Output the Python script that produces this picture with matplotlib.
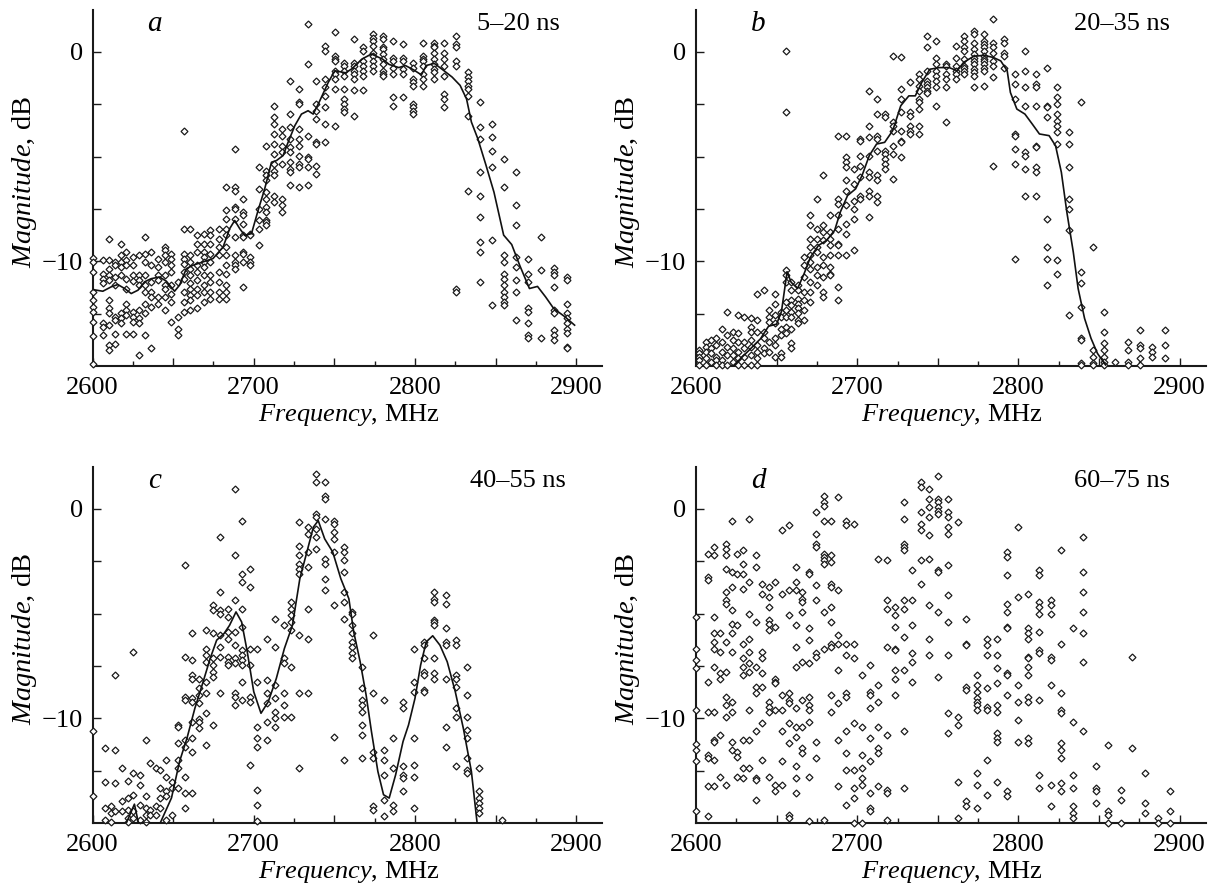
import matplotlib
matplotlib.use('Agg')
import matplotlib.pyplot as plt
from matplotlib.ticker import FixedLocator, FuncFormatter

plt.rcParams['font.family'] = ['Liberation Serif', 'DejaVu Serif']
plt.rcParams['mathtext.fontset'] = 'custom'
plt.rcParams['mathtext.rm'] = 'Liberation Serif'
plt.rcParams['mathtext.it'] = 'Liberation Serif:italic'

# ---------------- panel a : 5-20 ns ----------------
A_F = [2600.6, 2606.8, 2610.1, 2613.7, 2617.8, 2620.9, 2625.1, 2628.8, 2632.3, 2636.4,
       2640.6, 2644.7, 2648.9, 2653.0, 2656.5, 2660.7, 2664.8, 2668.9, 2673.1, 2678.5,
       2683.0, 2688.2, 2693.4, 2697.9, 2703.1, 2707.9, 2712.4, 2717.6, 2722.8, 2728.2,
       2733.7, 2738.9, 2744.5, 2750.1, 2755.9, 2762.0, 2768.0, 2774.0, 2780.1, 2786.4,
       2792.4, 2798.9, 2805.0, 2811.7, 2818.3, 2825.5, 2832.8, 2840.5, 2847.8, 2855.3,
       2862.5, 2870.2, 2878.2, 2886.0, 2894.4]
A_DB = [
    [-9.83, -10.03, -10.51, -11.46, -11.86, -12.17, -12.41, -12.89, -13.56, -14.9],
    [-9.95, -10.59, -10.83, -11.06, -12.97, -13.13, -13.52],
    [-8.92, -9.95, -10.35, -10.67, -10.90, -11.86, -12.25, -12.49, -13.05, -14.0, -14.24],
    [-10.03, -10.19, -10.75, -11.14, -12.65, -12.81, -13.49, -13.97],
    [-9.19, -9.71, -10.03, -10.27, -10.67, -12.49, -12.73, -12.97],
    [-9.56, -9.95, -10.19, -10.83, -11.30, -12.02, -12.33, -12.57, -13.49],
    [-9.79, -10.19, -10.67, -10.95, -12.41, -12.65, -12.89, -13.49],
    [-9.71, -10.67, -10.90, -11.14, -12.33, -12.73, -12.97, -14.48],
    [-8.84, -9.63, -10.03, -10.67, -11.14, -11.46, -12.02, -12.49, -13.52],
    [-9.56, -10.19, -10.98, -11.46, -11.70, -12.17, -14.16],
    [-9.87, -10.27, -10.67, -10.90, -11.70, -12.02],
    [-9.32, -9.48, -9.71, -10.03, -10.67, -11.14, -11.30, -11.70, -12.33],
    [-9.63, -9.87, -10.19, -10.51, -11.14, -11.54, -11.94, -12.89],
    [-10.98, -12.65, -13.21, -13.52],
    [-3.76, -8.44, -9.63, -9.87, -10.11, -10.51, -10.83, -11.46, -11.94, -12.41],
    [-8.44, -9.71, -10.03, -10.35, -10.67, -11.06, -11.30, -11.62, -11.86, -12.33],
    [-8.76, -9.16, -9.56, -10.19, -10.51, -10.90, -11.30, -11.62, -12.25],
    [-8.68, -9.16, -9.56, -9.79, -10.03, -10.27, -10.67, -11.14, -11.46, -11.94],
    [-8.52, -8.76, -9.16, -9.63, -10.03, -10.67, -10.98, -11.46, -11.78],
    [-8.44, -8.92, -9.32, -9.71, -10.51, -10.98, -11.46, -11.78],
    [-6.46, -7.57, -7.97, -8.44, -8.76, -9.32, -9.71, -10.19, -10.59, -11.14, -11.46, -11.78],
    [-4.63, -6.46, -6.62, -7.41, -7.49, -7.97, -8.84, -9.71, -10.03, -10.19, -10.35],
    [-7.02, -7.65, -7.81, -8.21, -8.76, -8.84, -9.56, -9.63, -10.03, -11.22],
    [-8.68, -8.76, -9.79, -10.03, -10.19],
    [-5.51, -6.54, -7.49, -8.05, -8.44, -9.24],
    [-4.48, -5.67, -5.90, -6.14, -6.70, -7.02, -7.41, -7.65, -8.05, -8.13, -8.29],
    [-2.57, -3.13, -3.44, -3.92, -4.40, -4.87, -5.35, -5.67, -5.90, -6.86, -7.17],
    [-3.68, -4.00, -4.48, -4.79, -5.35, -7.02, -7.33, -7.65],
    [-1.38, -2.97, -3.60, -4.16, -4.56, -4.79, -5.27, -5.59, -5.75, -6.38],
    [-1.78, -2.41, -2.49, -3.68, -4.16, -4.48, -4.95, -5.35, -5.51, -6.46],
    [1.32, -0.59, -4.00, -5.03, -5.11, -5.51, -6.38],
    [-1.38, -2.49, -2.81, -3.21, -4.32, -4.40, -5.43, -5.83],
    [0.29, 0.05, -1.30, -1.70, -2.10, -2.65, -3.44, -4.32],
    [0.97, -0.19, -0.35, -0.43, -0.90, -1.06, -1.30, -1.78, -3.52],
    [-0.51, -0.67, -0.90, -1.14, -1.78, -2.25, -2.49, -2.73, -2.89],
    [0.60, -0.51, -0.67, -0.90, -1.06, -1.30, -1.81, -3.08],
    [0.21, 0.05, -0.43, -0.67, -0.90, -1.14, -1.81],
    [0.84, 0.68, 0.52, 0.29, -0.03, -0.19, -0.43, -0.67, -0.90],
    [0.76, 0.60, 0.21, 0.13, -0.11, -0.35, -0.59, -0.90, -1.06, -1.14],
    [0.52, -0.27, -0.43, -0.75, -1.06, -2.17, -2.57],
    [0.37, -0.27, -0.43, -0.83, -1.06, -2.17],
    [-0.51, -0.75, -1.30, -1.46, -1.62, -2.49, -2.65, -2.81, -2.97],
    [0.44, -0.19, -0.35, -0.43, -0.67, -1.06, -1.30, -1.62],
    [0.44, 0.29, 0.21, -0.03, -0.35, -0.59, -0.83, -0.98, -1.30],
    [0.44, -0.03, -0.35, -0.67, -1.14, -2.02, -2.25, -2.65],
    [0.76, 0.37, 0.21, -0.43, -0.67, -11.30, -11.46],
    [-0.98, -1.22, -1.38, -1.62, -1.78, -2.10, -3.05, -6.62],
    [-2.41, -3.60, -4.16, -5.75, -6.86, -7.89, -9.08, -9.56, -10.98],
    [-3.44, -4.08, -4.71, -5.51, -9.00, -12.10],
    [-5.11, -6.46, -9.71, -10.03, -10.59, -10.83, -11.14, -11.46, -11.70, -11.94, -12.10],
    [-5.75, -7.33, -8.29, -9.79, -10.27, -10.90, -11.46, -12.81],
    [-9.87, -10.59, -10.98, -12.25, -12.41, -12.97, -13.52, -13.68],
    [-8.84, -10.43, -13.65],
    [-10.32, -10.51, -10.67, -11.22, -12.33, -12.49, -13.29, -13.52, -13.76],
    [-10.75, -10.90, -12.02, -12.49, -12.73, -12.97, -13.21, -13.44, -14.08, -14.16],
]
A_LINE_F = [2600.2, 2606.4, 2611.6, 2615.7, 2619.9, 2624.0, 2628.2, 2632.3, 2636.4, 2641.6,
            2645.8, 2650.9, 2654.0, 2658.2, 2662.3, 2668.5, 2674.7, 2681.0, 2685.1, 2688.2,
            2691.3, 2694.4, 2698.6, 2702.7, 2706.8, 2711.0, 2714.1, 2718.2, 2721.3, 2725.5,
            2729.6, 2733.7, 2736.9, 2741.0, 2746.2, 2750.3, 2757, 2761, 2767, 2773,
            2780, 2784, 2790, 2794, 2799, 2804, 2807, 2812, 2818, 2823,
            2828, 2832, 2835, 2839, 2844, 2849, 2855, 2860, 2865, 2871,
            2876, 2881, 2886, 2893, 2899]
A_LINE_DB = [-11.35, -11.43, -11.22, -11.11, -11.30, -11.54, -11.38, -10.98, -10.83, -10.75,
             -10.95, -11.43, -11.14, -10.35, -10.19, -10.03, -9.87, -9.32, -8.44, -8.05,
             -8.44, -8.76, -8.68, -7.57, -6.54, -5.27, -5.19, -4.95, -4.32, -3.52,
             -2.97, -2.81, -2.97, -2.33, -1.46, -0.90, -1.0, -0.8, -0.35, -0.1,
             -0.35, -0.6, -0.75, -0.65, -0.85, -1.1, -0.65, -0.55, -0.9, -1.2,
             -1.6, -2.25, -3.35, -4.15, -5.4, -6.7, -8.75, -9.2, -10.2, -11.3,
             -11.2, -11.7, -12.25, -12.65, -13.05]

# ---------------- panel b : 20-35 ns ----------------
B_F = [2602, 2606, 2609, 2612.5, 2616, 2619, 2623, 2626, 2630, 2634,
       2638, 2642, 2645.5, 2649, 2653, 2656, 2659, 2663, 2667, 2671,
       2675, 2679, 2683, 2688, 2693, 2698, 2702, 2707, 2712, 2717.5,
       2722, 2727, 2733, 2738, 2743.5, 2749, 2755, 2761, 2766.5, 2772.5,
       2778.5, 2784.5, 2791, 2798, 2804, 2811, 2818, 2824, 2831.5, 2839,
       2846, 2853, 2860, 2868, 2875.5, 2883, 2891]
B_DB = [
    [-14.24, -14.40, -14.56, -14.71, -14.95],
    [-13.84, -14.08, -14.32, -14.63, -14.95],
    [-13.76, -14.16, -14.40, -14.79],
    [-13.68, -14.0, -14.56, -14.71, -14.95],
    [-13.21, -13.84, -14.32, -14.71, -14.95],
    [-12.41, -13.52, -14.08, -14.48, -14.95],
    [-13.37, -13.76, -14.16, -14.48, -14.79],
    [-12.57, -13.44, -13.84, -14.32, -14.63, -14.95],
    [-12.65, -13.84, -14.16, -14.56, -14.95],
    [-12.73, -13.13, -13.37, -13.76, -14.08, -14.48, -14.95],
    [-11.54, -12.81, -13.37, -14.0, -14.32, -14.63, -14.95],
    [-11.38, -13.37, -13.68, -14.16, -14.40],
    [-12.33, -12.65, -12.89, -13.84, -14.32],
    [-11.54, -12.02, -12.57, -12.97, -13.68, -14.0, -14.56],
    [-12.41, -12.65, -13.21, -13.52, -14.40, -14.56],
    [0.05, -2.89, -10.43, -10.67, -10.98, -11.94, -12.33, -12.65, -13.13, -13.44],
    [-10.98, -11.38, -11.86, -12.10, -12.41, -12.65, -13.21, -13.92, -14.16],
    [-11.14, -11.38, -11.78, -12.02, -12.25, -12.49, -12.81, -12.97],
    [-9.79, -10.19, -10.75, -11.46, -11.86, -12.33, -12.81],
    [-7.81, -8.29, -8.92, -9.32, -9.71, -10.03, -10.35, -10.98, -11.46, -11.94],
    [-7.02, -8.44, -8.92, -9.32, -9.56, -10.27, -10.67, -11.14],
    [-5.90, -8.29, -8.60, -9.00, -9.79, -10.19, -10.75, -11.46, -11.70],
    [-7.81, -8.60, -8.92, -9.24, -9.71, -10.27, -10.59, -10.67],
    [-4.00, -7.02, -7.25, -7.81, -8.44, -9.16, -9.24, -9.71, -11.22, -11.86],
    [-4.00, -5.03, -5.27, -5.51, -6.14, -6.62, -7.33, -8.21, -8.68, -9.71],
    [-5.59, -6.30, -7.10, -7.49, -7.97, -9.48],
    [-4.16, -4.24, -4.95, -5.43, -5.98, -6.86, -7.02],
    [-1.86, -3.52, -4.08, -4.95, -5.75, -5.98, -6.62, -6.86, -7.89],
    [-2.25, -2.97, -4.00, -4.16, -4.71, -5.90, -6.14, -6.86, -7.17],
    [-2.97, -3.13, -4.71, -4.87, -5.11, -5.35, -5.59],
    [-0.19, -3.37, -3.52, -3.76, -4.48, -4.87, -6.06],
    [-0.24, -1.75, -2.25, -2.89, -3.76, -4.24, -4.32, -5.03],
    [-1.46, -2.89, -3.05, -3.52, -3.76, -3.92],
    [-1.06, -1.30, -1.62, -1.86, -2.25, -2.41, -2.73, -3.52, -3.92],
    [0.76, 0.21, -0.90, -1.38, -1.54, -1.70, -1.86, -1.94],
    [0.52, -0.27, -0.59, -0.90, -1.14, -1.38, -1.70, -2.57],
    [-0.59, -0.67, -1.06, -1.30, -1.70, -3.37],
    [0.29, -0.27, -0.67, -0.90, -1.06, -1.30],
    [0.76, 0.52, 0.21, 0.05, -0.35, -0.67, -0.75, -0.90, -1.06],
    [1.00, 0.84, 0.44, 0.13, -0.11, -0.27, -0.43, -0.59, -0.83, -0.98, -1.14, -1.70],
    [0.84, 0.52, 0.37, 0.21, 0.05, -0.19, -0.35, -0.43, -0.59, -0.75, -0.90, -1.65],
    [1.56, 0.44, 0.21, -0.03, -0.43, -0.67, -1.22, -5.43],
    [0.63, 0.44, -0.03, -0.19, -0.75],
    [-1.06, -1.54, -2.25, -3.92, -4.00, -4.63, -5.35, -9.87],
    [0.05, -0.90, -1.70, -2.57, -4.79, -4.95, -5.59, -6.86],
    [-1.06, -1.54, -1.70, -2.57, -4.48, -4.56, -5.51, -5.75, -6.86],
    [-0.75, -2.57, -2.65, -3.13, -7.97, -9.32, -9.87, -11.14],
    [-1.70, -2.17, -2.49, -2.97, -3.29, -3.52, -3.84, -4.40, -9.95, -10.59],
    [-3.84, -4.40, -5.51, -7.02, -7.49, -8.52, -12.57],
    [-2.41, -10.51, -11.06, -12.17, -13.68, -13.76, -14.87, -14.95],
    [-9.32, -14.24, -14.56, -14.87, -14.95],
    [-12.41, -13.37, -13.92, -14.24, -14.56, -14.79, -14.95],
    [-14.79],
    [-13.84, -14.24, -14.79, -14.95],
    [-13.29, -14.0, -14.16, -14.63, -14.95],
    [-14.08, -14.32, -14.56],
    [-13.29, -14.0, -14.63],
]
B_LINE_F = [2623, 2633, 2640, 2645, 2650, 2653, 2656.5, 2659, 2663, 2667,
            2671, 2676, 2681, 2686, 2689.5, 2694, 2699, 2703, 2707.5, 2712,
            2717, 2722, 2727, 2732, 2736, 2740, 2745, 2751, 2757, 2762,
            2766, 2772, 2778.5, 2784.5, 2789, 2793, 2795, 2799, 2804, 2808.5,
            2813, 2819, 2823, 2826.6, 2830, 2834, 2837, 2841, 2845, 2849, 2854]
B_LINE_DB = [-15.0, -14.24, -13.7, -13.1, -13.0, -12.4, -10.5, -11.0, -11.3, -10.6,
             -9.8, -9.24, -9.0, -8.52, -7.65, -6.86, -6.54, -5.9, -4.95, -4.40,
             -4.32, -3.76, -2.57, -2.10, -2.10, -1.46, -0.83, -0.75, -0.75, -0.9,
             -0.5, -0.22, -0.16, -0.27, -0.43, -0.9, -1.94, -2.73, -2.97, -3.44,
             -3.92, -4.0, -4.48, -5.75, -7.65, -9.56, -11.3, -12.73, -13.68, -14.4, -14.95]

# ---------------- panel c : 40-55 ns ----------------
C_F = [2600, 2607.5, 2611.6, 2614, 2618, 2622, 2625, 2629.7, 2633.3, 2635.7,
       2639.3, 2641.8, 2645.4, 2649, 2653.3, 2657.4, 2661.5, 2665.9, 2670.2, 2675,
       2679.2, 2684, 2688.3, 2693, 2697.8, 2702.1, 2708.1, 2713, 2718.5, 2723.3,
       2728.2, 2733.5, 2738.8, 2744.3, 2749.9, 2755.7, 2761.2, 2767.3, 2774, 2780.5,
       2786.6, 2792.6, 2799.1, 2805.4, 2811.9, 2819.2, 2825.7, 2832.4, 2839.7, 2854]
C_DB = [
    [-10.63, -13.73],
    [-11.43, -13.02, -14.29, -14.84],
    [-14.21, -14.52, -14.97],
    [-7.94, -11.51, -13.10, -14.44],
    [-12.38, -13.97, -14.44],
    [-12.98, -13.81, -14.37, -14.76, -14.97],
    [-6.83, -12.62, -13.65, -14.44, -14.76],
    [-12.70, -13.17, -14.13, -14.84],
    [-11.03, -13.73, -14.29, -14.60, -14.97],
    [-12.14, -14.37, -14.60],
    [-12.38, -14.21, -14.60],
    [-12.46, -13.33, -13.81, -14.29],
    [-11.98, -12.78, -13.49, -13.73, -14.84],
    [-13.02, -13.33, -14.60],
    [-10.32, -10.40, -11.19, -11.98, -12.38, -13.33],
    [-2.70, -7.06, -8.97, -9.13, -11.03, -11.35, -12.78, -13.57, -14.29],
    [-5.95, -7.22, -7.94, -8.10, -9.05, -9.21, -10.16, -10.95, -11.59, -13.57],
    [-8.10, -8.57, -8.89, -9.29, -10.02, -10.16, -10.48],
    [-5.79, -6.67, -6.98, -7.30, -8.25, -8.81, -9.76, -11.27],
    [-4.60, -4.84, -5.95, -7.14, -7.46, -7.78, -8.02, -10.32],
    [-1.35, -3.97, -4.84, -5.00, -6.03, -6.59, -7.06, -8.81],
    [-4.76, -5.16, -5.87, -6.19, -7.06, -7.30, -7.46],
    [0.95, -2.22, -4.37, -5.87, -6.51, -7.14, -7.38, -8.81, -8.97, -9.37],
    [-0.60, -3.10, -3.49, -4.76, -5.63, -6.75, -6.98, -7.22, -7.46, -8.25, -9.13],
    [-2.86, -3.73, -6.67, -7.46, -8.97, -9.21, -12.22],
    [-6.67, -8.25, -10.40, -10.95, -11.35, -13.41, -14.13, -14.92],
    [-6.19, -8.17, -8.81, -9.29, -10.16, -11.03],
    [-5.24, -6.59, -8.41, -9.05, -9.68, -10.00, -10.40],
    [-5.56, -7.14, -7.38, -8.81, -9.37, -9.92],
    [-4.44, -4.76, -5.08, -5.40, -5.79, -7.54, -9.92],
    [-0.63, -1.75, -2.22, -2.62, -2.86, -3.10, -6.03, -8.81, -12.38],
    [-0.87, -1.19, -2.06, -2.78, -4.76, -6.19, -8.81],
    [1.67, 1.27, -0.24, -0.40, -0.95, -1.35, -1.90],
    [1.27, 0.63, 0.48, -0.48, -2.38, -2.62, -3.33, -3.89],
    [-0.56, -0.71, -1.11, -1.43, -2.06, -4.60, -10.87],
    [-1.83, -2.06, -2.46, -3.02, -3.97, -4.44, -5.24, -11.98],
    [-4.92, -5.00, -5.56, -5.95, -6.35, -6.59, -6.90, -7.14],
    [-7.54, -8.57, -9.13, -9.37, -9.68, -10.32, -10.79, -11.90],
    [-6.03, -8.81, -11.59, -11.90, -14.21, -14.37],
    [-9.13, -11.51, -11.98, -12.70, -13.89, -14.68],
    [-10.95, -12.38, -14.13, -14.44],
    [-9.21, -9.52, -12.30, -12.70, -12.86, -13.49],
    [-6.67, -8.25, -8.73, -10.95, -12.22, -12.78, -14.29],
    [-6.35, -6.51, -7.14, -7.78, -7.94, -8.65, -8.73],
    [-3.97, -4.29, -4.44, -5.32, -5.40, -5.56, -7.14, -7.86, -8.10],
    [-4.13, -4.52, -5.71, -6.35, -6.51, -8.10, -10.40, -11.35],
    [-6.27, -6.51, -7.94, -8.10, -8.49, -9.52, -9.92, -12.30],
    [-7.54, -8.89, -9.92, -10.56, -10.95, -11.90, -12.46, -12.62],
    [-12.38, -13.49, -13.81, -14.05, -14.29, -14.52],
    [-14.84],
]
C_LINE_F = [2621, 2626, 2628.5, 2642, 2649, 2654, 2658.6, 2663.5, 2668, 2673,
            2677, 2681.6, 2685, 2689, 2692.5, 2696, 2700, 2704.5, 2709, 2714,
            2719, 2724, 2728.6, 2733.5, 2737, 2740, 2744, 2749, 2754, 2759,
            2762, 2766, 2769.7, 2773, 2777, 2780.5, 2784, 2788, 2792.6, 2796,
            2800, 2803.5, 2807, 2811, 2815.5, 2820, 2825, 2830, 2835, 2838.5]
C_LINE_DB = [-15.0, -14.1, -15.0, -15.0, -13.8, -12.06, -10.95, -9.52, -8.41, -7.14,
             -6.27, -5.95, -5.56, -4.92, -5.40, -6.83, -8.73, -9.76, -9.21, -8.10,
             -6.67, -5.56, -3.33, -1.90, -0.87, -0.56, -1.43, -2.06, -3.33, -4.29,
             -5.87, -7.30, -8.89, -10.63, -12.54, -13.65, -13.81, -12.70, -11.11, -10.32,
             -9.05, -7.46, -6.35, -6.06, -6.51, -7.30, -8.73, -10.48, -12.54, -14.97]

# ---------------- panel d : 60-75 ns ----------------
D_F = [2600, 2607.7, 2611.3, 2614.9, 2618.5, 2622.1, 2625.7, 2629.3, 2633.0, 2637.0,
       2640.7, 2645.0, 2649.3, 2653.4, 2657.7, 2661.8, 2665.9, 2670.2, 2674.3, 2679.1,
       2684.0, 2688.3, 2693.1, 2697.9, 2703.2, 2708.0, 2713.1, 2718.4, 2723.6, 2728.7,
       2734.0, 2739.3, 2744.8, 2750.3, 2756.4, 2762.4, 2767.7, 2774.4, 2780.4, 2786.9,
       2792.9, 2799.4, 2806.2, 2812.9, 2820.1, 2826.6, 2833.8, 2840.3, 2848.3, 2855.5,
       2863.4, 2870.6, 2878.3, 2886.7, 2894.0]
D_DB = [
    [-5.16, -6.67, -7.22, -7.62, -9.60, -11.24, -11.51, -12.06, -14.44],
    [-2.14, -3.25, -3.41, -8.25, -9.68, -11.75, -11.90, -13.25, -14.68],
    [-1.83, -2.22, -5.16, -5.95, -6.35, -6.67, -7.54, -9.68, -11.03, -11.11, -11.98, -13.25],
    [-5.95, -6.83, -7.86, -8.10, -10.79, -12.78],
    [-1.67, -1.90, -2.22, -2.86, -3.97, -4.37, -4.52, -6.35, -7.78, -8.97, -9.37, -9.92, -13.17],
    [-0.56, -3.02, -3.73, -4.84, -5.48, -5.95, -6.83, -9.21, -9.68, -11.11, -11.51],
    [-2.14, -3.10, -5.56, -11.59, -11.83, -12.78],
    [-1.98, -2.62, -3.10, -3.81, -6.43, -7.14, -7.54, -7.94, -11.03, -12.38, -12.86],
    [-0.48, -3.49, -5.00, -6.19, -6.83, -7.38, -7.78, -9.60, -11.03, -12.38],
    [-2.22, -2.78, -5.40, -7.54, -8.49, -8.81, -10.63, -12.86, -12.94, -13.89],
    [-3.57, -4.05, -6.83, -7.14, -7.86, -8.49, -10.24, -11.98],
    [-3.73, -4.21, -4.68, -5.32, -5.48, -5.79, -9.21, -9.44, -9.68, -12.78],
    [-3.49, -5.63, -8.10, -8.25, -8.33, -9.60, -13.17, -13.49],
    [-1.03, -4.05, -8.89, -9.60, -10.63, -12.06, -13.17],
    [-0.79, -3.89, -5.08, -8.81, -9.13, -9.29, -10.24, -11.19, -14.60, -14.76],
    [-2.78, -3.49, -3.89, -5.56, -6.59, -7.54, -9.52, -10.40, -10.87, -12.30, -12.86, -13.57],
    [-3.97, -4.29, -4.44, -4.92, -7.30, -9.13, -10.40, -11.43, -11.67],
    [-3.02, -3.10, -5.71, -6.27, -7.38, -8.97, -9.37, -9.60, -10.16, -12.78, -14.92],
    [-0.16, -1.19, -1.67, -1.83, -3.65, -4.37, -6.90, -7.06, -11.11, -11.90],
    [0.63, 0.32, 0.16, -0.56, -2.14, -2.30, -2.46, -2.62, -4.92, -6.67, -14.84],
    [-0.56, -2.22, -2.54, -3.57, -3.73, -4.68, -5.40, -6.43, -6.59, -8.89, -9.68],
    [0.56, -3.89, -6.03, -6.43, -7.70, -9.29, -11.03, -13.25],
    [-0.56, -0.79, -6.43, -6.98, -8.81, -8.97, -10.63, -11.67, -12.46, -14.13],
    [-0.71, -6.43, -7.14, -10.24, -12.46, -13.33, -13.81, -15.0],
    [-7.94, -10.40, -11.75, -12.38, -12.86, -13.17, -15.0],
    [-7.46, -8.73, -8.89, -9.52, -10.95, -12.06, -13.57, -14.29, -14.44],
    [-2.38, -8.41, -9.21, -10.40, -11.43, -11.67, -13.25],
    [-2.46, -4.37, -4.76, -6.59, -10.79, -13.41, -13.57, -14.84],
    [-4.68, -5.08, -5.63, -6.67, -6.75, -7.70, -8.10, -8.89],
    [0.32, -0.48, -1.67, -1.83, -1.98, -4.37, -4.76, -6.11, -7.70, -10.63, -13.33],
    [-2.94, -4.37, -5.56, -6.90, -7.30, -8.25],
    [1.27, 1.03, -0.16, -0.71, -1.03, -2.46, -3.57],
    [0.95, 0.48, 0.08, -0.40, -1.27, -2.38, -4.60, -6.19, -6.98],
    [1.59, 0.48, 0.32, 0.08, -0.08, -0.24, -2.94, -3.02, -4.92, -8.02],
    [0.48, -0.16, -0.40, -0.87, -1.19, -2.70, -4.13, -5.40, -6.98, -9.76, -10.71],
    [-0.63, -9.92, -10.32, -13.02, -14.76],
    [-5.24, -6.43, -6.51, -8.49, -8.65, -13.97, -14.21],
    [-7.94, -8.41, -8.73, -9.05, -9.21, -9.37, -9.60, -12.62, -13.17, -14.29],
    [-6.19, -6.51, -6.98, -8.57, -9.44, -9.60, -11.98, -13.65],
    [-6.19, -6.98, -7.62, -8.33, -9.37, -9.68, -10.71, -10.95, -11.11, -13.02],
    [-2.06, -2.30, -3.17, -4.52, -4.92, -5.63, -5.71, -7.86, -7.94, -8.89, -13.49, -13.73],
    [-0.87, -4.21, -8.41, -9.21, -10.08, -11.11],
    [-4.05, -5.71, -5.95, -6.19, -7.06, -7.14, -7.54, -7.94, -8.97, -9.21, -10.95, -11.19],
    [-2.94, -3.17, -4.44, -4.68, -5.00, -5.87, -6.75, -6.90, -9.13, -12.70, -13.33],
    [-4.37, -4.60, -5.00, -7.06, -7.22, -8.41, -13.17, -14.21],
    [-1.98, -6.43, -8.81, -9.60, -9.76, -11.19, -11.51, -11.90, -13.10, -13.49],
    [-5.71, -10.16, -12.70, -13.33, -14.21, -14.52, -14.76],
    [-1.35, -3.02, -3.97, -4.92, -5.95, -7.30, -10.63],
    [-12.30, -13.33, -13.49, -14.05],
    [-11.27, -14.44, -14.60, -15.0],
    [-13.41, -13.89, -15.0],
    [-7.06, -11.43],
    [-12.62, -14.05, -14.52],
    [-14.76, -15.0],
    [-13.49, -14.44, -15.0],
]

PANELS = [
    ('a', '5\u201320 ns', A_F, A_DB, A_LINE_F, A_LINE_DB),
    ('b', '20\u201335 ns', B_F, B_DB, B_LINE_F, B_LINE_DB),
    ('c', '40\u201355 ns', C_F, C_DB, C_LINE_F, C_LINE_DB),
    ('d', '60\u201375 ns', D_F, D_DB, None, None),
]

X_LIM = (2600, 2916)
Y_LIM = (-15, 2)

W, H = 1210, 892
fig = plt.figure(figsize=(W / 100, H / 100), dpi=100)
lefts = [92.5, 696, 92.5, 696]
bottoms = [366, 366, 823, 823]
aw, ah = 509.5, 356

FS = 19


def expand(freqs, dbs):
    xs, ys = [], []
    for f, col in zip(freqs, dbs):
        for v in col:
            xs.append(f)
            ys.append(v)
    return xs, ys


for i, (letter, tag, cf, cdb, lf, ldb) in enumerate(PANELS):
    ax = fig.add_axes([lefts[i] / W, 1 - bottoms[i] / H, aw / W, ah / H])
    xs, ys = expand(cf, cdb)
    ax.plot(xs, ys, linestyle='none', marker='D', markersize=3.5,
            markerfacecolor='white', markeredgecolor='#1a1a1a',
            markeredgewidth=0.9, clip_on=False, zorder=3)
    if lf is not None:
        ax.plot(lf, ldb, color='#111111', lw=1.2, zorder=4)
    ax.set_xlim(*X_LIM)
    ax.set_ylim(*Y_LIM)
    for s in ('top', 'right'):
        ax.spines[s].set_visible(False)
    for s in ('left', 'bottom'):
        ax.spines[s].set_linewidth(1.5)
        ax.spines[s].set_color('#1a1a1a')
    ax.xaxis.set_major_locator(FixedLocator([2600, 2650, 2700, 2750, 2800, 2850, 2900]))
    ax.xaxis.set_minor_locator(FixedLocator([2625, 2675, 2725, 2775, 2825, 2875]))
    ax.xaxis.set_major_formatter(FuncFormatter(
        lambda v, p: f'{int(round(v))}' if int(round(v)) % 100 == 0 else ''))
    ax.yaxis.set_major_locator(FixedLocator([0, -2.5, -5, -7.5, -10, -12.5]))
    ax.yaxis.set_major_formatter(FuncFormatter(
        lambda v, p: '0' if abs(v) < 1e-9 else ('\u221210' if abs(v + 10) < 1e-9 else '')))
    ax.tick_params(axis='x', which='major', direction='in', length=6, width=1.0,
                   pad=8, labelsize=FS, color='#1a1a1a')
    ax.tick_params(axis='x', which='minor', direction='in', length=3.5, width=1.0,
                   color='#1a1a1a')
    ax.tick_params(axis='y', which='major', direction='in', length=6, width=1.0,
                   pad=7, labelsize=FS, color='#1a1a1a')
    ax.text(2638.5, 1.0, letter, fontsize=21, style='italic', ha='center',
            va='baseline')
    ax.text(2864, 1.05, tag, fontsize=FS, ha='center', va='baseline')
    ax.text(0.503, -0.137, r'$\mathit{Frequency}$, MHz', fontsize=FS,
            transform=ax.transAxes, ha='center', va='center')
    ax.text(-0.1335, 0.517, r'$\mathit{Magnitude}$, dB', fontsize=20.5,
            transform=ax.transAxes, ha='center', va='center', rotation=90)

fig.savefig('out.png', dpi=100, facecolor='white')
